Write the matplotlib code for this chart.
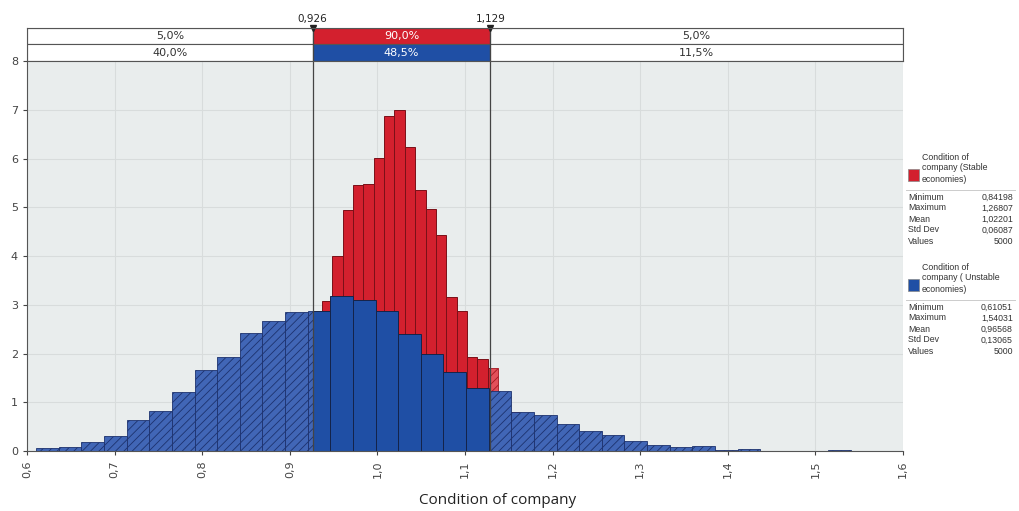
import numpy as np
import matplotlib.pyplot as plt
from matplotlib.patches import Rectangle
import matplotlib.ticker as mticker

# -------------------------------------------------------
# Daten
# -------------------------------------------------------
stable_min, stable_max = 0.84198, 1.26807
unstable_min, unstable_max = 0.61051, 1.54031

stable_dens = [0.05, 0.10, 0.20, 0.35, 0.60, 0.95, 1.45, 2.20, 3.07, 3.99,
               4.95, 5.45, 5.48, 6.01, 6.87, 6.99, 6.23, 5.36, 4.97, 4.44,
               3.16, 2.88, 1.92, 1.88, 1.70, 1.10, 0.80, 0.50, 0.32, 0.20,
               0.12, 0.08, 0.05, 0.03, 0.02, 0.02]
unstable_dens = [0.07, 0.08, 0.18, 0.31, 0.64, 0.82, 1.22, 1.66, 1.92, 2.42,
                 2.66, 2.86, 2.88, 3.17, 3.10, 2.87, 2.40, 1.99, 1.63, 1.29,
                 1.24, 0.79, 0.74, 0.56, 0.41, 0.33, 0.21, 0.13, 0.09, 0.10,
                 0.02, 0.05, 0.01, 0.01, 0.01, 0.03]

cut_lo, cut_hi = 0.926, 1.129
stable_pct = ["5,0%", "90,0%", "5,0%"]
unstable_pct = ["40,0%", "48,5%", "11,5%"]

stat_names = ["Minimum", "Maximum", "Mean", "Std Dev", "Values"]
stable_stats = ["0,84198", "1,26807", "1,02201", "0,06087", "5000"]
unstable_stats = ["0,61051", "1,54031", "0,96568", "0,13065", "5000"]

xticks = np.round(np.arange(0.6, 1.61, 0.1), 1)

RED, RED_H = "#d3202e", "#e2505a"
BLUE, BLUE_H = "#1f4fa5", "#4166b6"

plt.rcParams["hatch.linewidth"] = 0.6


def split_bars(vmin, vmax, dens):
    """Balken in innen (solid) / aussen (schraffiert) aufteilen"""
    edges = np.linspace(vmin, vmax, len(dens) + 1)
    inner, outer = [], []
    for l, r, h in zip(edges[:-1], edges[1:], dens):
        for a, b, part in [(-np.inf, cut_lo, outer), (cut_lo, cut_hi, inner),
                           (cut_hi, np.inf, outer)]:
            lo, hi = max(l, a), min(r, b)
            if hi > lo:
                part.append((lo, hi - lo, h))
    return inner, outer


fig = plt.figure(figsize=(10.2, 5.11), dpi=100)
W, H = 1020, 511
ax = fig.add_axes([27 / W, 1 - 451 / H, 876 / W, 390 / H])
ax.set_facecolor("#e9eded")

for vmin, vmax, dens, col, colh, ec, ech in [
    (stable_min, stable_max, stable_dens, RED, RED_H, "#7a1018", "#a3161f"),
    (unstable_min, unstable_max, unstable_dens, BLUE, BLUE_H, "#14244a", "#1d326e"),
]:
    inner, outer = split_bars(vmin, vmax, dens)
    if outer:
        l, w, h = zip(*outer)
        ax.bar(l, h, width=w, align="edge", color=colh, edgecolor=ech,
               hatch="////", linewidth=0.6)
    l, w, h = zip(*inner)
    ax.bar(l, h, width=w, align="edge", color=col, edgecolor=ec, linewidth=0.7)

ax.set_xlim(0.6, 1.6)
ax.set_ylim(0, 8)
ax.set_xticks(xticks)
ax.set_xticklabels([f"{t:.1f}".replace(".", ",") for t in xticks],
                   rotation=90, fontsize=8, color="#444444")
ax.yaxis.set_major_locator(mticker.MultipleLocator(1))
ax.tick_params(axis="y", labelsize=8, colors="#444444", length=3)
ax.tick_params(axis="x", length=3, colors="#444444")
ax.grid(True, color="#d8dcdc", linewidth=0.8)
ax.set_axisbelow(True)
for s in ["top", "right"]:
    ax.spines[s].set_visible(False)
for s in ["left", "bottom"]:
    ax.spines[s].set_color("#555555")

for c in (cut_lo, cut_hi):
    ax.axvline(c, color="#444444", linewidth=0.9, zorder=5)

# Prozent-Tabelle oben
tax = fig.add_axes([27 / W, 1 - 61 / H, 876 / W, 33 / H])
tax.set_xlim(0.6, 1.6)
tax.set_ylim(0, 2)
tax.set_xticks([])
tax.set_yticks([])
for s in tax.spines.values():
    s.set_color("#555555")
bounds = [0.6, cut_lo, cut_hi, 1.6]
for row, pct, fill in [(1, stable_pct, RED), (0, unstable_pct, BLUE)]:
    for i in range(3):
        a, b = bounds[i], bounds[i + 1]
        fc = fill if i == 1 else "white"
        tax.add_patch(Rectangle((a, row), b - a, 1, facecolor=fc,
                                edgecolor="#555555", linewidth=0.8))
        tax.text((a + b) / 2, row + 0.5, pct[i], ha="center", va="center",
                 fontsize=8, color="white" if i == 1 else "#333333")
for c in (cut_lo, cut_hi):
    tax.axvline(c, color="#444444", linewidth=0.9)
    tax.plot([c], [2], marker="v", color="#222222", markersize=4, clip_on=False)
    tax.text(c, 2.25, f"{c:.3f}".replace(".", ","), ha="center", va="bottom",
             fontsize=7.5, color="#222222")

fig.text(498 / W, 1 - 500 / H, "Condition of company", ha="center", va="center",
         fontsize=11, family="Open Sans", color="#222222")

# Legende rechts
def legend_block(y0, label, col, values):
    fig.patches.append(Rectangle((908 / W, 1 - (y0 + 24) / H), 11 / W, 12 / H,
                                 facecolor=col, edgecolor="#888888",
                                 linewidth=0.5, transform=fig.transFigure))
    for k, line in enumerate(label):
        fig.text(922 / W, 1 - (y0 + k * 11) / H, line, fontsize=6.3,
                 family="Liberation Sans", color="#333333", va="center")
    fig.add_artist(plt.Line2D([906 / W, 1015 / W],
                              [1 - (y0 + 33) / H] * 2, color="#cccccc",
                              linewidth=0.7))
    for k, (n, v) in enumerate(zip(stat_names, values)):
        y = 1 - (y0 + 40 + k * 11) / H
        fig.text(908 / W, y, n, fontsize=6.3, family="Liberation Sans",
                 color="#333333", va="center")
        fig.text(1013 / W, y, v, fontsize=6.3, family="Liberation Sans",
                 color="#333333", va="center", ha="right")


legend_block(157, ["Condition of", "company (Stable", "economies)"], RED,
             stable_stats)
legend_block(267, ["Condition of", "company ( Unstable", "economies)"], BLUE,
             unstable_stats)

fig.savefig("out.png", dpi=100)
